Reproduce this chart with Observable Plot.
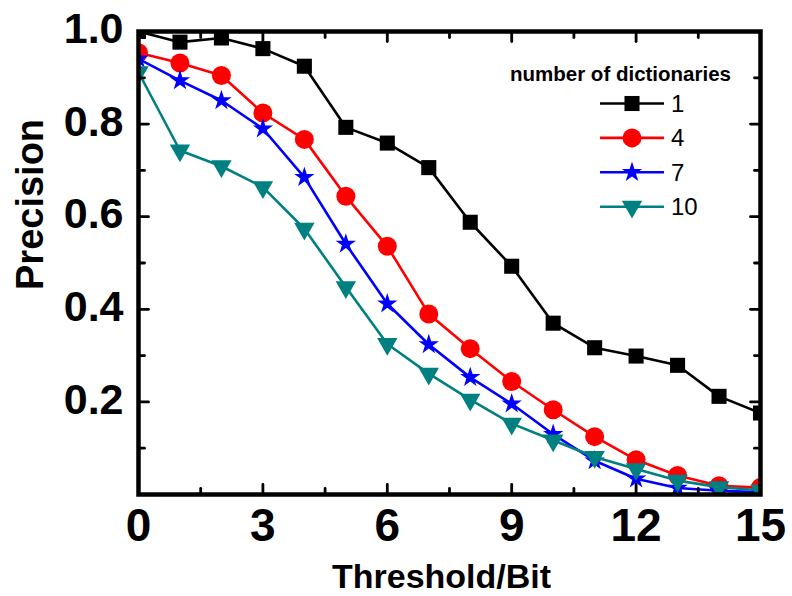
<!DOCTYPE html>
<html><head><meta charset="utf-8">
<script src="https://cdn.jsdelivr.net/npm/d3@7"></script>
<script src="https://cdn.jsdelivr.net/npm/@observablehq/plot@0.6"></script>
<style>
body{margin:0;background:#fff;}
#chart{position:relative;width:792px;height:596px;}
#legend{position:absolute;left:0;top:0;pointer-events:none;}
</style></head><body><div id="chart"></div>
<script>
const thresholds = [0,1,2,3,4,5,6,7,8,9,10,11,12,13,14,15];
const dict1  = [1.000,0.977,0.986,0.963,0.925,0.793,0.759,0.706,0.588,0.493,0.370,0.317,0.299,0.279,0.212,0.176];
const dict4  = [0.954,0.932,0.905,0.824,0.767,0.644,0.536,0.390,0.315,0.244,0.183,0.125,0.075,0.041,0.019,0.015];
const dict7  = [0.941,0.894,0.851,0.790,0.685,0.541,0.412,0.324,0.253,0.196,0.130,0.073,0.034,0.014,0.008,0.005];
const dict10 = [0.912,0.743,0.709,0.664,0.574,0.448,0.325,0.261,0.205,0.153,0.117,0.081,0.055,0.030,0.016,0.009];
const seriesNames = ["1","4","7","10"];
const seriesColors = ["#000000","#ff0000","#0000ff","#008080"];
const seriesSymbols = ["square","circle","star","triangle"];
const seriesRadius = [8.5, 9.5, 6.4, 7.6];
const seriesRotate = [0, 0, 0, 180];
const xMajorTicks = [0,3,6,9,12,15];
const xMinorTicks = [1.5,4.5,7.5,10.5,13.5];
const yMajorTicks = [0.2,0.4,0.6,0.8,1.0];
const yMinorTicks = [0.1,0.3,0.5,0.7,0.9];
const legendTitle = "number of dictionaries";
const xLabel = "Threshold/Bit";
const yLabel = "Precision";

const FONT = "'Liberation Sans', Arial, Helvetica, sans-serif";
const allSeries = [dict1, dict4, dict7, dict10];
const rows = allSeries.flatMap((vals, i) => vals.map((v, j) => ({threshold: thresholds[j], precision: v, dicts: seriesNames[i]})));

const tickShape = {draw(context, l) { context.moveTo(0, 0); context.lineTo(0, -l); }};
function ticks(data, dim, anchor, rotate, len) {
  const o = {frameAnchor: anchor, rotate, length: len, anchor: "start", shape: tickShape, stroke: "black", strokeWidth: 2.8, strokeLinecap: "round"};
  o[dim] = d => d;
  return Plot.vector(data, o);
}

const marks = [];
seriesNames.forEach((name, i) => {
  const d = rows.filter(r => r.dicts === name);
  marks.push(Plot.line(d, {x: "threshold", y: "precision", stroke: seriesColors[i], strokeWidth: 2.6, clip: true}));
  marks.push(Plot.dot(d, {x: "threshold", y: "precision", symbol: seriesSymbols[i], r: seriesRadius[i], fill: seriesColors[i], stroke: "none", rotate: seriesRotate[i], clip: true}));
});

const chart = Plot.plot({
  width: 792, height: 596,
  marginLeft: 138, marginRight: 32, marginTop: 31, marginBottom: 102,
  style: {fontFamily: FONT, background: "white", overflow: "visible"},
  x: {domain: [0, 15]},
  y: {domain: [0, 1]},
  marks: [
    ...marks,
    ticks(xMajorTicks, "x", "bottom", 0, 10),
    ticks(xMinorTicks, "x", "bottom", 0, 6),
    ticks(xMajorTicks, "x", "top", 180, 10),
    ticks(xMinorTicks, "x", "top", 180, 6),
    ticks(yMajorTicks, "y", "left", 90, 10),
    ticks(yMinorTicks, "y", "left", 90, 6),
    ticks(yMajorTicks, "y", "right", 270, 10),
    ticks(yMinorTicks, "y", "right", 270, 6),
    Plot.axisX(xMajorTicks, {anchor: "bottom", tickSize: 0, tickPadding: 14, fontSize: 46, fontWeight: "bold", fill: "black", tickFormat: d => String(d), label: null}),
    Plot.axisY(yMajorTicks, {anchor: "left", tickSize: 0, tickPadding: 15, dy: -2, fontSize: 43, fontWeight: "bold", fill: "black", tickFormat: d3.format(".1f"), label: null}),
    Plot.text([xLabel], {frameAnchor: "bottom", text: d => d, dx: -8, dy: 93, lineAnchor: "bottom", fontSize: 34, fontWeight: "bold", fill: "black"}),
    Plot.text([yLabel], {frameAnchor: "left", text: d => d, dx: -96, dy: 27, rotate: -90, lineAnchor: "bottom", fontSize: 38, fontWeight: "bold", fill: "black"}),
    Plot.frame({stroke: "black", strokeWidth: 4.5})
  ]
});
const host = document.getElementById("chart");
host.appendChild(chart);

// legend overlay
const svg = d3.select(host).append("svg").attr("id", "legend").attr("width", 792).attr("height", 596)
  .style("font-family", FONT);
svg.append("text").attr("x", 510).attr("y", 81).attr("font-size", 20.5).attr("font-weight", "bold").text(legendTitle);
const symMap = {square: d3.symbolSquare, circle: d3.symbolCircle, star: d3.symbolStar, triangle: d3.symbolTriangle};
seriesNames.forEach((name, i) => {
  const y = 103.5 + i * 34.4;
  const g = svg.append("g");
  g.append("line").attr("x1", 600).attr("x2", 664).attr("y1", y).attr("y2", y).attr("stroke", seriesColors[i]).attr("stroke-width", 2.6);
  g.append("path").attr("d", d3.symbol(symMap[seriesSymbols[i]], Math.PI * seriesRadius[i] ** 2)())
    .attr("transform", `translate(632,${y}) rotate(${seriesRotate[i]})`).attr("fill", seriesColors[i]);
  g.append("text").attr("x", 671).attr("y", y + 8.5).attr("font-size", 24).text(name);
});
</script></body></html>
